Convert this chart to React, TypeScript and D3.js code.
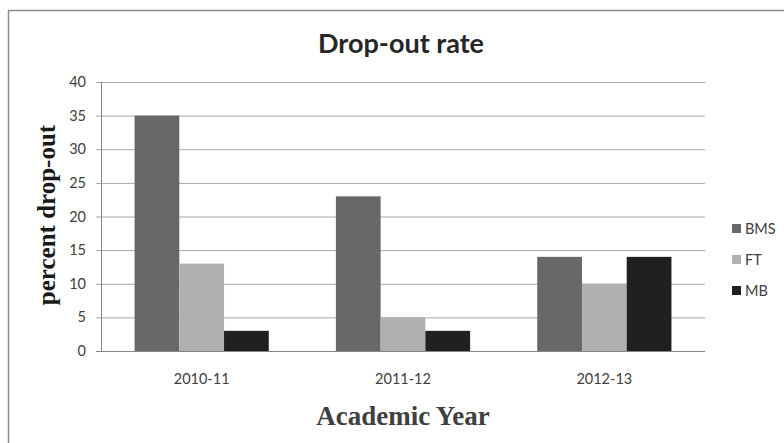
import React from "react";
import * as d3 from "d3";

const categories = ["2010-11", "2011-12", "2012-13"];
const seriesNames = ["BMS", "FT", "MB"];
const bms = [35, 23, 14];
const ft = [13, 5, 10];
const mb = [3, 3, 14];
const yTicks = [0, 5, 10, 15, 20, 25, 30, 35, 40];
const colors = ["#686868", "#b0b0b0", "#202020"];

export default function App() {
  const W = 784, H = 443;
  const left = 101, right = 705, top = 82, bottom = 351;
  const x = d3.scaleBand<string>().domain(categories).range([left, right]);
  const inner = d3.scaleBand<string>().domain(seriesNames).range([0, x.bandwidth()]).paddingOuter(0.75).paddingInner(0);
  const y = d3.scaleLinear().domain([0, 40]).range([bottom, top]);
  const series = [bms, ft, mb];
  const sans = "Lato, 'Liberation Sans', Arial, sans-serif";
  const serif = "'Liberation Serif', 'DejaVu Serif', serif";
  return (
    <svg width={W} height={H} style={{ position: "absolute", left: 0, top: 0 }}>
      <rect x={0} y={0} width={W} height={H} fill="#fff" />
      <path d={`M8.5,${H} L8.5,10.5 L${W},10.5`} fill="none" stroke="#8c8c8c" strokeWidth={1.5} />
      <text x={401} y={53} textAnchor="middle" fontFamily={sans} fontWeight="bold" fontSize={27} fill="#262626">Drop-out rate</text>
      {yTicks.map((t) => (
        <g key={t}>
          <line x1={96} x2={right} y1={y(t) + 0.5} y2={y(t) + 0.5} stroke={t === 0 ? "#868686" : "#a6a6a6"} strokeWidth={1} />
          <text x={86} y={y(t) + 5} textAnchor="end" fontFamily={sans} fontSize={14.5} fill="#404040">{t}</text>
        </g>
      ))}
      <line x1={left + 0.5} x2={left + 0.5} y1={top} y2={bottom} stroke="#868686" />
      {categories.map((c, i) => (
        <g key={c}>
          {series.map((s, j) => (
            <rect key={j} x={(x(c) as number) + (inner(seriesNames[j]) as number)} y={y(s[i])} width={inner.bandwidth()} height={bottom - y(s[i])} fill={colors[j]} />
          ))}
          <text x={(x(c) as number) + x.bandwidth() / 2} y={384} textAnchor="middle" fontFamily={sans} fontSize={14.5} fill="#404040">{c}</text>
        </g>
      ))}
      <line x1={96} x2={right} y1={bottom + 0.5} y2={bottom + 0.5} stroke="#868686" />
      <text transform={`translate(55,215) rotate(-90)`} textAnchor="middle" fontFamily={serif} fontWeight="bold" fontSize={25} fill="#1a1a1a">percent drop-out</text>
      <text x={403} y={425} textAnchor="middle" fontFamily={serif} fontWeight="bold" fontSize={27} fill="#404040">Academic Year</text>
      {seriesNames.map((n, j) => (
        <g key={n}>
          <rect x={732} y={224 + j * 31} width={9} height={9} fill={colors[j]} />
          <text x={745} y={234 + j * 31} fontFamily={sans} fontSize={14.5} fill="#404040">{n}</text>
        </g>
      ))}
    </svg>
  );
}
